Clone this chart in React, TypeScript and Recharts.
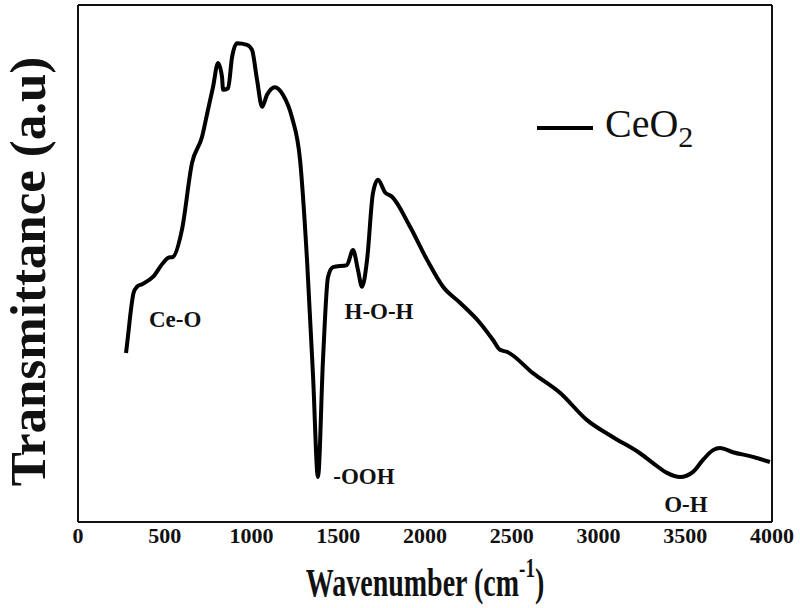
import React from 'react';
import {
  LineChart,
  Line,
  XAxis,
  YAxis,
  Legend,
  ReferenceLine,
  ReferenceDot,
  Label
} from 'recharts';

// FTIR spectrum of CeO2
const wavenumbers = [
  277, 290, 305, 320, 340, 369, 432, 490, 519, 548, 599, 657, 715, 749, 778, 807, 830, 836,
  865, 888, 916, 974, 1003, 1032, 1061, 1089, 1135, 1182, 1233, 1280, 1320, 1355, 1383,
  1412, 1441, 1470, 1550, 1585, 1614, 1637, 1666, 1700, 1729, 1769, 1810, 1914, 2012, 2104,
  2202, 2317, 2392, 2432, 2473, 2622, 2778, 2934, 3084, 3239, 3314, 3395, 3470, 3545, 3602,
  3660, 3700, 3775, 3890, 3988
];
const transmittance = [
  32.7, 36.5, 41, 44.3, 45.5, 46, 47.4, 50.1, 51.1, 51.3, 56.5, 69.4, 74.5, 79.7, 84.1, 88.8, 86.1, 83.6,
  83.9, 89.9, 92.6, 92.3, 91.3, 85.5, 80.3, 82.6, 84.1, 82.6, 78.3, 70.0, 50.7, 28, 8.7,
  31.3, 47.4, 49.3, 49.7, 52.6, 48.7, 45.5, 50.7, 63.6, 66.2, 63.8, 62.9, 57.1, 50.7, 45.5,
  42.4, 38.5, 35.2, 33.3, 32.9, 28.8, 25.0, 19.7, 16.4, 13.3, 11.4, 9.5, 8.7, 9.7, 12.0,
  13.9, 14.3, 13.5, 12.6, 11.6
];
const xTicks = [0, 500, 1000, 1500, 2000, 2500, 3000, 3500, 4000];

const bands = [
  { name: 'Ce-O', x: 560, y: 39.3 },
  { name: 'H-O-H', x: 1735, y: 40.8 },
  { name: '-OOH', x: 1648, y: 8.9 },
  { name: 'O-H', x: 3504, y: 3.5 }
];

const data = wavenumbers.map((w, i) => ({ wn: w, t: transmittance[i] }));

const serif = '"Liberation Serif", "Times New Roman", serif';

const XTick = ({ x, y, payload }: any) => (
  <text x={x} y={y} dy={21} textAnchor="middle" fontSize={22} fontWeight="bold" fontFamily={serif} fill="#111">
    {payload.value}
  </text>
);

const XTitle = ({ viewBox }: any) => {
  const cx = viewBox.x + viewBox.width / 2;
  const by = viewBox.y + 74;
  return (
    <text transform={`translate(${cx},${by}) scale(1,1.45)`} textAnchor="middle" fontSize={28} fontWeight="bold" fontFamily={serif} fill="#111">
      Wavenumber  (cm<tspan fontSize={19} dy={-13}>-1</tspan><tspan dy={13}>)</tspan>
    </text>
  );
};

const YTitle = ({ viewBox }: any) => {
  const x = viewBox.x + 45;
  const y = viewBox.y + viewBox.height / 2 + 8;
  return (
    <text x={x} y={y} transform={`rotate(-90, ${x}, ${y})`} textAnchor="middle" fontSize={51} fontWeight="bold" fontFamily={serif} fill="#111">
      Transmittance (a.u)
    </text>
  );
};

const LegendBox = () => (
  <svg width={170} height={60}>
    <line x1={7} y1={28} x2={63} y2={28} stroke="#000" strokeWidth={4} />
    <text x={75} y={37} fontSize={40} fontFamily={serif} fill="#111">
      CeO<tspan fontSize={30} dy={10}>2</tspan>
    </text>
  </svg>
);

export default function App() {
  return (
    <div style={{ position: 'absolute', left: 0, top: 0, background: '#fff' }}>
      <LineChart width={800} height={608} data={data} margin={{ top: 5, right: 28, bottom: 0, left: 0 }}>
        <XAxis
          dataKey="wn"
          type="number"
          domain={[0, 4000]}
          ticks={xTicks}
          tickLine={false}
          tickSize={0}
          tickMargin={0}
          height={86}
          stroke="#111"
          strokeWidth={2}
          tick={<XTick />}
          interval={0}
        >
          <Label content={<XTitle />} />
        </XAxis>
        <YAxis type="number" domain={[0, 100]} tick={false} tickLine={false} width={78} stroke="#111" strokeWidth={2}>
          <Label content={<YTitle />} />
        </YAxis>
        <ReferenceLine y={100} stroke="#111" strokeWidth={2} />
        <ReferenceLine x={4000} stroke="#111" strokeWidth={2} />
        <Legend
          layout="vertical"
          verticalAlign="middle"
          align="center"
          content={<LegendBox />}
          wrapperStyle={{ left: 530, top: 100, width: 170, height: 60 }}
        />
        <Line
          type="monotone"
          dataKey="t"
          stroke="#000"
          strokeWidth={4}
          dot={false}
          activeDot={false}
          isAnimationActive={false}
          strokeLinejoin="round"
        />
        {bands.map((b) => (
          <ReferenceDot
            key={b.name}
            x={b.x}
            y={b.y}
            r={0}
            fill="none"
            stroke="none"
            label={{ value: b.name, position: 'center', fontSize: 23, fontWeight: 'bold', fontFamily: serif, fill: '#111' }}
          />
        ))}
      </LineChart>
    </div>
  );
}
